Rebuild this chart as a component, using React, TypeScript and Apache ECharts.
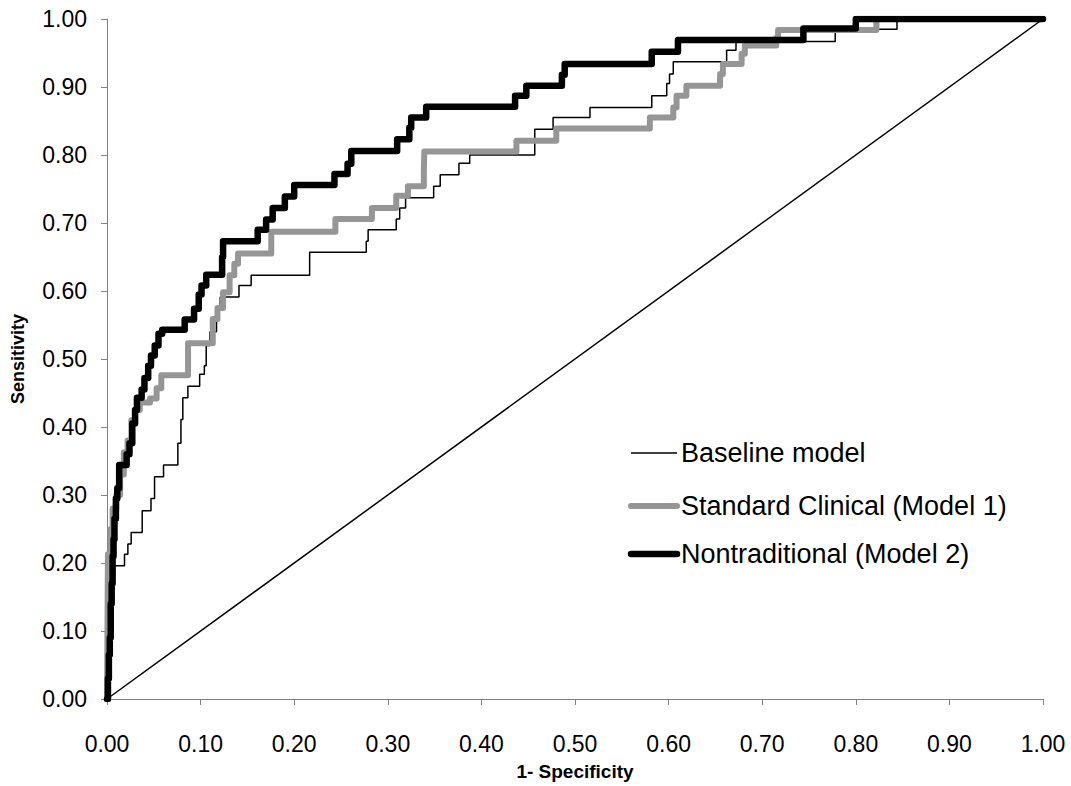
import React, { useEffect, useRef } from "react";
import * as echarts from "echarts";

// Baseline model (thin black) – ROC step points [1-specificity, sensitivity]
const baselineFpr = [0, 0.001, 0.002, 0.003, 0.005, 0.007, 0.008, 0.0187, 0.0223, 0.0258, 0.0376, 0.047, 0.0508, 0.0604, 0.0757, 0.079, 0.081, 0.0864, 0.099, 0.104, 0.106, 0.110, 0.117, 0.119, 0.121, 0.141, 0.154, 0.2165, 0.277, 0.279, 0.309, 0.3127, 0.319, 0.349, 0.356, 0.376, 0.3875, 0.457, 0.4766, 0.516, 0.582, 0.598, 0.601, 0.605, 0.662, 0.672, 0.778, 0.844, 1.0];
const baselineTpr = [0, 0.05, 0.10, 0.13, 0.16, 0.18, 0.196, 0.213, 0.228, 0.245, 0.277, 0.295, 0.327, 0.344, 0.376, 0.411, 0.443, 0.46, 0.4775, 0.49, 0.52, 0.54, 0.558, 0.575, 0.591, 0.608, 0.623, 0.657, 0.673, 0.69, 0.706, 0.722, 0.737, 0.754, 0.771, 0.788, 0.80, 0.838, 0.855, 0.870, 0.887, 0.905, 0.919, 0.937, 0.954, 0.967, 0.985, 1.0, 1.0];

// Standard Clinical (Model 1) – gray
const clinicalFpr = [0, 0.0005, 0.001, 0.004, 0.006, 0.010, 0.014, 0.018, 0.022, 0.026, 0.030, 0.035, 0.046, 0.053, 0.058, 0.0866, 0.113, 0.118, 0.124, 0.131, 0.136, 0.140, 0.1755, 0.244, 0.283, 0.309, 0.3215, 0.3385, 0.339, 0.4374, 0.480, 0.580, 0.605, 0.6085, 0.619, 0.655, 0.658, 0.678, 0.6815, 0.715, 0.717, 0.822, 1.0];
const clinicalTpr = [0, 0.10, 0.213, 0.25, 0.28, 0.30, 0.33, 0.363, 0.38, 0.41, 0.425, 0.436, 0.442, 0.457, 0.476, 0.523, 0.559, 0.575, 0.598, 0.623, 0.64, 0.655, 0.687, 0.706, 0.722, 0.740, 0.754, 0.775, 0.805, 0.821, 0.839, 0.855, 0.870, 0.887, 0.902, 0.919, 0.934, 0.949, 0.961, 0.972, 0.984, 1.0, 1.0];

// Nontraditional (Model 2) – thick black
const nontradFpr = [0, 0.001, 0.002, 0.003, 0.004, 0.005, 0.006, 0.007, 0.008, 0.0095, 0.011, 0.013, 0.021, 0.024, 0.027, 0.030, 0.032, 0.037, 0.040, 0.044, 0.047, 0.051, 0.055, 0.059, 0.083, 0.093, 0.098, 0.101, 0.106, 0.123, 0.124, 0.161, 0.170, 0.177, 0.190, 0.200, 0.243, 0.257, 0.261, 0.310, 0.323, 0.325, 0.341, 0.436, 0.448, 0.486, 0.489, 0.582, 0.610, 0.744, 0.800, 1.0];
const nontradTpr = [0, 0.03, 0.065, 0.09, 0.14, 0.17, 0.21, 0.235, 0.265, 0.295, 0.31, 0.344, 0.36, 0.376, 0.405, 0.425, 0.443, 0.455, 0.472, 0.49, 0.505, 0.52, 0.537, 0.543, 0.558, 0.574, 0.595, 0.608, 0.624, 0.65, 0.673, 0.69, 0.705, 0.722, 0.739, 0.756, 0.772, 0.787, 0.806, 0.823, 0.840, 0.855, 0.871, 0.887, 0.902, 0.918, 0.934, 0.952, 0.969, 0.986, 1.0, 1.0];

const diagonal = [[0, 0], [1, 1]];
const seriesNames = ["Baseline model", "Standard Clinical (Model 1)", "Nontraditional (Model 2)"];
const xTitle = "1- Specificity";
const yTitle = "Sensitivity";

const zip = (a: number[], b: number[]) => a.map((v, i) => [v, b[i]]);
const FONT = "'Liberation Sans', Arial, sans-serif";

const styles = [
  { color: "#000000", width: 1.5 },
  { color: "#969696", width: 6 },
  { color: "#000000", width: 6.5 },
];

export default function App() {
  const ref = useRef<HTMLDivElement>(null);
  useEffect(() => {
    if (!ref.current) return;
    const chart = echarts.init(ref.current, null, { renderer: "svg" });
    const axisCommon = {
      type: "value" as const,
      min: 0,
      max: 1,
      interval: 0.1,
      splitLine: { show: false },
      axisLine: { show: true, lineStyle: { color: "#808080", width: 1 } },
      axisTick: { show: true, length: 6, lineStyle: { color: "#808080" } },
    };
    const legendRows = [453, 506, 554];
    const legendGraphics: any[] = [];
    seriesNames.forEach((n, i) => {
      legendGraphics.push({
        type: "line",
        silent: true,
        shape: { x1: 631, y1: legendRows[i], x2: 677, y2: legendRows[i] },
        style: { stroke: styles[i].color, lineWidth: styles[i].width, lineCap: i === 0 ? "butt" : "round" },
      });
      legendGraphics.push({
        type: "text",
        silent: true,
        x: 681,
        y: legendRows[i],
        style: {
          text: n,
          fontFamily: FONT,
          fontSize: 27,
          fill: "#000",
          verticalAlign: "middle",
          align: "left",
        },
      });
    });
    chart.setOption({
      animation: false,
      backgroundColor: "#ffffff",
      grid: { left: 107, right: 28, top: 19, bottom: 87, containLabel: false },
      xAxis: {
        ...axisCommon,
        name: xTitle,
        nameLocation: "middle",
        nameGap: 63,
        nameTextStyle: { fontFamily: FONT, fontSize: 19, fontWeight: "bold", color: "#000" },
        axisLabel: {
          margin: 33,
          fontFamily: FONT,
          fontSize: 23,
          color: "#000",
          formatter: (v: number) => v.toFixed(2),
        },
      },
      yAxis: {
        ...axisCommon,
        name: yTitle,
        nameLocation: "middle",
        nameGap: 80,
        nameRotate: 90,
        nameTextStyle: { fontFamily: FONT, fontSize: 18, fontWeight: "bold", color: "#000" },
        axisLabel: {
          margin: 20,
          fontFamily: FONT,
          fontSize: 23,
          color: "#000",
          formatter: (v: number) => v.toFixed(2),
        },
      },
      graphic: legendGraphics,
      series: [
        {
          type: "line",
          silent: true,
          data: diagonal,
          symbol: "none",
          lineStyle: { color: "#000", width: 1.5 },
        },
        {
          name: seriesNames[0],
          type: "line",
          step: "end",
          data: zip(baselineFpr, baselineTpr),
          symbol: "none",
          lineStyle: { color: styles[0].color, width: styles[0].width },
        },
        {
          name: seriesNames[1],
          type: "line",
          step: "end",
          data: zip(clinicalFpr, clinicalTpr),
          symbol: "none",
          lineStyle: { color: styles[1].color, width: styles[1].width, cap: "round", join: "round" },
        },
        {
          name: seriesNames[2],
          type: "line",
          step: "end",
          data: zip(nontradFpr, nontradTpr),
          symbol: "none",
          lineStyle: { color: styles[2].color, width: styles[2].width, cap: "round", join: "round" },
        },
      ],
    });
    return () => chart.dispose();
  }, []);
  return <div ref={ref} style={{ width: 1071, height: 786, position: "absolute", left: 0, top: 0 }} />;
}
